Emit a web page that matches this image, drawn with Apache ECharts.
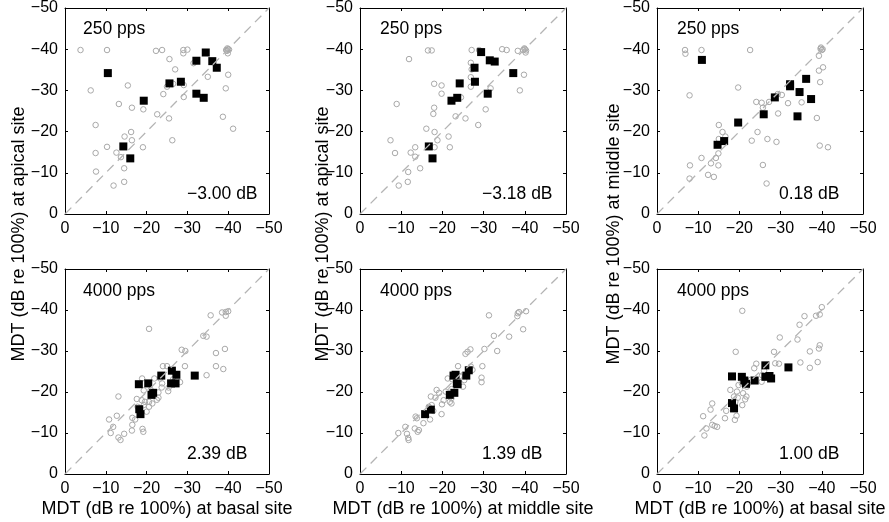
<!DOCTYPE html>
<html>
<head>
<meta charset="utf-8">
<script src="https://cdn.jsdelivr.net/npm/echarts@6/dist/echarts.min.js"></script>
<style>
  html, body { margin: 0; padding: 0; background: #fff; }
  #chart { width: 889px; height: 522px; }
</style>
</head>
<body>
<div id="chart"></div>
<script>
// ---------- data ----------
const tickValues = [0, -10, -20, -30, -40, -50];
const rateLabels = ['250 pps', '250 pps', '250 pps', '4000 pps', '4000 pps', '4000 pps'];
const diffLabels = ['\u22123.00 dB', '\u22123.18 dB', '0.18 dB', '2.39 dB', '1.39 dB', '1.00 dB'];
const xTitles = ['MDT (dB re 100%) at basal site', 'MDT (dB re 100%) at middle site', 'MDT (dB re 100%) at basal site'];
const yTitles = ['MDT (dB re 100%) at apical site', 'MDT (dB re 100%) at apical site', 'MDT (dB re 100%) at middle site'];
const diagonal = [[0, 0], [-50, -50]];

// panel 1: 250 pps, basal (x) vs apical (y)
const p1Circles = [[-3.8,-39.8],[-10.3,-39.8],[-6.3,-30.0],[-7.5,-21.6],[-7.5,-14.8],[-7.6,-10.3],[-10.3,-16.3],[-13.2,-26.7],[-15.4,-31.2],[-16.4,-25.8],[-16.2,-19.9],[-16.4,-17.9],[-14.6,-18.8],[-12.6,-14.9],[-13.7,-13.8],[-14.5,-11.1],[-14.5,-7.8],[-11.9,-6.9],[-19.2,-25.4],[-19.1,-16.2],[-22.3,-39.6],[-23.8,-39.8],[-25.6,-37.6],[-27.0,-35.1],[-26.5,-31.6],[-25.0,-30.9],[-24.1,-29.1],[-22.6,-24.2],[-25.5,-23.2],[-26.3,-17.9],[-29.0,-39.8],[-30.0,-39.9],[-29.0,-39.0],[-29.1,-31.3],[-29.1,-28.4],[-31.5,-36.6],[-35.0,-33.3],[-39.5,-39.8],[-40.0,-40.0],[-39.8,-40.2],[-40.2,-39.9],[-39.7,-39.6],[-39.9,-39.0],[-40.0,-33.8],[-39.4,-30.5],[-38.7,-23.6],[-41.2,-20.7]];
const p1Squares = [[-10.5,-34.2],[-14.3,-16.4],[-16.0,-13.5],[-19.3,-27.5],[-25.6,-31.7],[-28.4,-32.1],[-32.2,-37.2],[-34.5,-39.2],[-36.1,-37.1],[-37.2,-35.5],[-32.2,-29.2],[-34.0,-28.2]];

// panel 2: 250 pps, middle (x) vs apical (y)
const p2Circles = [[-7.4,-17.9],[-8.5,-14.8],[-8.9,-26.7],[-9.4,-6.9],[-11.6,-7.8],[-11.7,-10.2],[-11.9,-37.6],[-12.3,-14.9],[-13.4,-16.2],[-13.4,-13.9],[-14.6,-11.1],[-16.1,-20.7],[-16.5,-39.7],[-17.4,-39.7],[-17.8,-24.3],[-18.0,-25.8],[-18.0,-31.6],[-18.1,-19.9],[-18.1,-16.2],[-18.8,-17.9],[-19.8,-31.2],[-19.8,-29.2],[-21.5,-18.8],[-21.8,-16.2],[-23.2,-23.7],[-24.5,-28.3],[-25.6,-23.2],[-26.9,-36.7],[-27.1,-39.8],[-26.9,-33.2],[-26.9,-30.9],[-27.1,-35.1],[-28.7,-21.6],[-28.9,-39.8],[-30.5,-25.4],[-31.7,-30.5],[-34.5,-40.0],[-35.6,-39.8],[-38.3,-39.6],[-38.8,-30.0],[-39.8,-33.8],[-39.6,-39.8],[-40.0,-40.0],[-40.3,-39.7],[-39.9,-40.2],[-40.2,-39.2]];
const p2Squares = [[-16.7,-16.4],[-17.6,-13.5],[-22.2,-27.5],[-23.6,-28.2],[-24.2,-31.7],[-27.9,-32.1],[-27.8,-35.5],[-29.4,-39.3],[-31.5,-37.3],[-32.7,-37.0],[-37.2,-34.2],[-31.0,-29.2]];

// panel 3: 250 pps, basal (x) vs middle (y)
const p3Circles = [[-6.8,-39.8],[-6.9,-38.9],[-10.8,-39.8],[-7.9,-28.8],[-8.0,-11.8],[-7.9,-8.6],[-10.8,-13.6],[-12.4,-9.5],[-13.1,-12.3],[-13.8,-9.0],[-14.3,-13.6],[-14.9,-11.8],[-14.9,-14.7],[-15.0,-21.6],[-15.0,-18.2],[-15.9,-19.9],[-16.6,-18.8],[-19.7,-30.7],[-22.6,-39.8],[-23.0,-17.8],[-24.4,-19.9],[-24.1,-27.2],[-25.4,-27.0],[-25.7,-25.8],[-27.2,-27.2],[-25.7,-11.9],[-26.6,-7.4],[-26.8,-18.2],[-29.3,-29.1],[-30.3,-28.9],[-29.4,-24.4],[-29.0,-17.5],[-31.8,-26.9],[-35.1,-27.1],[-38.8,-23.3],[-39.3,-34.8],[-40.3,-35.6],[-39.6,-32.0],[-39.3,-38.4],[-39.7,-40.1],[-40.0,-39.8],[-39.8,-40.4],[-40.2,-40.0],[-39.5,-16.6],[-41.5,-16.2]];
const p3Squares = [[-10.9,-37.4],[-14.7,-16.8],[-16.3,-17.7],[-19.7,-22.2],[-25.9,-24.2],[-28.6,-28.3],[-32.3,-31.5],[-32.3,-31.0],[-34.6,-29.6],[-36.2,-32.8],[-37.4,-27.9],[-34.1,-23.7]];

// panel 4: 4000 pps, basal (x) vs apical (y)
const p4Circles = [[-10.8,-13.3],[-11.2,-10.0],[-11.8,-11.5],[-12.7,-14.2],[-13.1,-18.9],[-13.1,-8.9],[-13.6,-8.3],[-14.5,-9.8],[-16.4,-10.6],[-16.5,-12.0],[-16.5,-13.7],[-17.2,-13.3],[-17.6,-18.3],[-17.8,-16.4],[-18.8,-18.0],[-18.9,-23.3],[-19.0,-11.0],[-19.2,-10.3],[-19.3,-20.4],[-19.3,-16.8],[-19.6,-17.6],[-20.0,-15.2],[-20.6,-35.4],[-20.6,-16.4],[-20.6,-17.6],[-21.0,-20.5],[-21.4,-17.2],[-21.9,-23.3],[-22.5,-18.1],[-22.9,-19.9],[-22.9,-18.6],[-23.3,-23.3],[-23.8,-22.1],[-23.7,-21.1],[-24.0,-26.3],[-25.0,-26.3],[-25.3,-20.2],[-25.4,-21.1],[-26.5,-23.1],[-28.2,-22.4],[-28.6,-30.3],[-29.5,-30.0],[-29.4,-26.3],[-33.9,-33.7],[-34.7,-33.5],[-34.7,-24.1],[-35.7,-38.7],[-37.0,-29.5],[-37.0,-26.3],[-38.5,-39.4],[-39.4,-39.5],[-39.4,-38.6],[-40.0,-39.7],[-39.2,-30.5],[-38.8,-25.6]];
const p4Squares = [[-18.1,-21.9],[-20.4,-22.1],[-21.2,-19.3],[-21.6,-19.8],[-18.2,-15.8],[-18.5,-14.6],[-23.6,-24.0],[-26.2,-25.2],[-27.3,-24.2],[-26.0,-22.1],[-27.1,-22.1],[-31.8,-24.0]];

// panel 5: 4000 pps, middle (x) vs apical (y)
const p5Circles = [[-9.3,-10.0],[-11.0,-11.5],[-11.4,-9.8],[-11.7,-8.8],[-11.8,-8.3],[-13.5,-14.0],[-13.8,-13.6],[-13.3,-11.1],[-14.0,-10.3],[-14.3,-10.7],[-15.4,-12.4],[-16.7,-16.4],[-17.0,-13.3],[-17.4,-16.8],[-17.8,-15.4],[-17.2,-18.9],[-18.3,-18.6],[-18.6,-20.5],[-19.2,-19.8],[-19.9,-17.0],[-19.8,-14.6],[-20.3,-18.0],[-20.8,-20.1],[-21.3,-23.3],[-21.8,-17.6],[-22.2,-17.2],[-22.2,-18.5],[-22.2,-20.7],[-22.4,-23.1],[-23.8,-26.3],[-24.2,-23.9],[-25.0,-21.3],[-25.3,-22.9],[-25.6,-29.3],[-25.7,-24.1],[-26.1,-29.8],[-26.8,-30.4],[-26.9,-26.2],[-27.3,-25.4],[-29.7,-26.3],[-29.5,-23.5],[-29.5,-22.4],[-30.2,-30.5],[-31.3,-38.7],[-32.5,-33.7],[-33.3,-30.0],[-36.2,-33.5],[-38.3,-39.2],[-38.6,-39.5],[-38.2,-38.5],[-39.6,-35.3],[-40.3,-39.7]];
const p5Squares = [[-15.8,-14.6],[-17.2,-15.7],[-21.8,-19.3],[-22.9,-19.8],[-22.7,-24.0],[-23.2,-24.2],[-23.5,-22.1],[-23.7,-21.9],[-25.8,-24.0],[-26.4,-25.3]];

// panel 6: 4000 pps, basal (x) vs middle (y)
const p6Circles = [[-11.2,-14.1],[-11.5,-9.4],[-12.0,-11.1],[-13.0,-15.7],[-13.4,-17.2],[-13.4,-12.0],[-14.0,-11.7],[-14.6,-11.5],[-16.5,-13.6],[-16.8,-15.4],[-17.8,-20.5],[-17.9,-17.2],[-18.7,-18.9],[-18.9,-13.2],[-19.0,-17.6],[-19.1,-29.8],[-19.3,-14.2],[-19.4,-20.1],[-19.6,-18.6],[-19.8,-21.7],[-20.6,-22.1],[-20.7,-39.8],[-20.7,-16.8],[-20.9,-19.7],[-21.4,-18.2],[-21.7,-18.9],[-21.8,-21.3],[-22.1,-22.0],[-22.8,-23.0],[-23.6,-25.8],[-24.1,-26.9],[-25.4,-22.5],[-25.5,-24.1],[-26.0,-25.2],[-28.4,-29.8],[-28.7,-27.0],[-29.6,-26.9],[-29.8,-33.3],[-34.1,-32.8],[-34.6,-36.4],[-34.8,-27.2],[-35.8,-38.5],[-37.1,-29.9],[-37.1,-25.9],[-38.6,-38.6],[-39.5,-38.9],[-39.0,-27.3],[-39.3,-30.6],[-39.5,-31.4],[-40.0,-40.7]];
const p6Squares = [[-18.2,-23.8],[-20.6,-23.7],[-21.2,-22.8],[-21.6,-22.0],[-23.7,-22.8],[-18.2,-17.3],[-18.7,-16.0],[-26.3,-26.5],[-26.3,-23.7],[-27.3,-23.9],[-27.7,-23.3],[-31.9,-26.0]];

const panelCircles = [p1Circles, p2Circles, p3Circles, p4Circles, p5Circles, p6Circles];
const panelSquares = [p1Squares, p2Squares, p3Squares, p4Squares, p5Squares, p6Squares];

// ---------- layout / style ----------
const FONT = '"Liberation Sans", Arial, Helvetica, sans-serif';
const colLeft = [65, 360, 657];
const colWidth = [204, 206, 206];
const rowTop = [7, 269];
const rowHeight = [207, 205];

function fmt(v) { return v === 0 ? '0' : '\u2212' + Math.abs(v); }

const grids = [], xAxes = [], yAxes = [], series = [], graphics = [];
for (let i = 0; i < 6; i++) {
  const c = i % 3, r = Math.floor(i / 3);
  grids.push({ left: colLeft[c], top: rowTop[r], width: colWidth[c], height: rowHeight[r], containLabel: false });
  const tickMin = Math.min.apply(null, tickValues), tickMax = Math.max.apply(null, tickValues);
  const baseAxis = {
    gridIndex: i, type: 'value', min: tickMin, max: tickMax, interval: 10, inverse: true,
    axisLine: { show: true, onZero: false, lineStyle: { color: '#000', width: 1 } },
    axisTick: { show: true, inside: true, length: 3, lineStyle: { color: '#000', width: 1 } },
    splitLine: { show: false }
  };
  const labelOn = { show: true, fontSize: 16, color: '#000', fontFamily: FONT, margin: 7, formatter: fmt, showMinLabel: true, showMaxLabel: true };
  xAxes.push(Object.assign({}, baseAxis, { position: 'bottom', axisLabel: labelOn }));
  xAxes.push(Object.assign({}, baseAxis, { position: 'top', axisLabel: { show: false } }));
  yAxes.push(Object.assign({}, baseAxis, { position: 'left', axisLabel: labelOn }));
  yAxes.push(Object.assign({}, baseAxis, { position: 'right', axisLabel: { show: false } }));

  series.push({
    type: 'scatter', xAxisIndex: 2 * i, yAxisIndex: 2 * i, data: panelCircles[i],
    symbol: 'circle', symbolSize: 5.5, z: 2, silent: true,
    itemStyle: { color: 'rgba(255,255,255,0)', borderColor: '#a9a9a9', borderWidth: 1, opacity: 1 }
  });
  series.push({
    type: 'scatter', xAxisIndex: 2 * i, yAxisIndex: 2 * i, data: panelSquares[i],
    symbol: 'rect', symbolSize: 8, z: 3, silent: true,
    itemStyle: { color: '#000', borderWidth: 0, opacity: 1 }
  });
  series.push({
    type: 'line', xAxisIndex: 2 * i, yAxisIndex: 2 * i, data: diagonal,
    symbol: 'none', z: 4, silent: true,
    lineStyle: { color: '#b4b4b4', width: 1.3, type: [9, 6] }
  });

  const gl = colLeft[c], gt = rowTop[r], gw = colWidth[c], gh = rowHeight[r];
  graphics.push({
    type: 'text', x: gl + (c === 0 ? 18 : 20), y: gt + 22, z: 10,
    style: { text: rateLabels[i], fontSize: 17.5, fontFamily: FONT, fill: '#000', textAlign: 'left', textVerticalAlign: 'middle' }
  });
  graphics.push({
    type: 'text', x: gl + 122, y: gt + gh - 20, z: 10,
    style: { text: diffLabels[i], fontSize: 17.5, fontFamily: FONT, fill: '#000', textAlign: 'left', textVerticalAlign: 'middle' }
  });
}
const yTitleX = [19.5, 323.5, 614];
for (let c = 0; c < 3; c++) {
  graphics.push({
    type: 'text', x: colLeft[c] + colWidth[c] / 2, y: 509, z: 10,
    style: { text: xTitles[c], fontSize: 18, fontFamily: FONT, fill: '#000', textAlign: 'center', textVerticalAlign: 'middle' }
  });
  graphics.push({
    type: 'text', x: yTitleX[c], y: 234, rotation: Math.PI / 2, z: 10,
    style: { text: yTitles[c], fontSize: 18, fontFamily: FONT, fill: '#000', textAlign: 'center', textVerticalAlign: 'middle' }
  });
}

const chart = echarts.init(document.getElementById('chart'), null, { renderer: 'canvas' });
chart.setOption({
  animation: false,
  backgroundColor: '#fff',
  grid: grids,
  xAxis: xAxes,
  yAxis: yAxes,
  series: series,
  graphic: graphics
});
</script>
</body>
</html>
